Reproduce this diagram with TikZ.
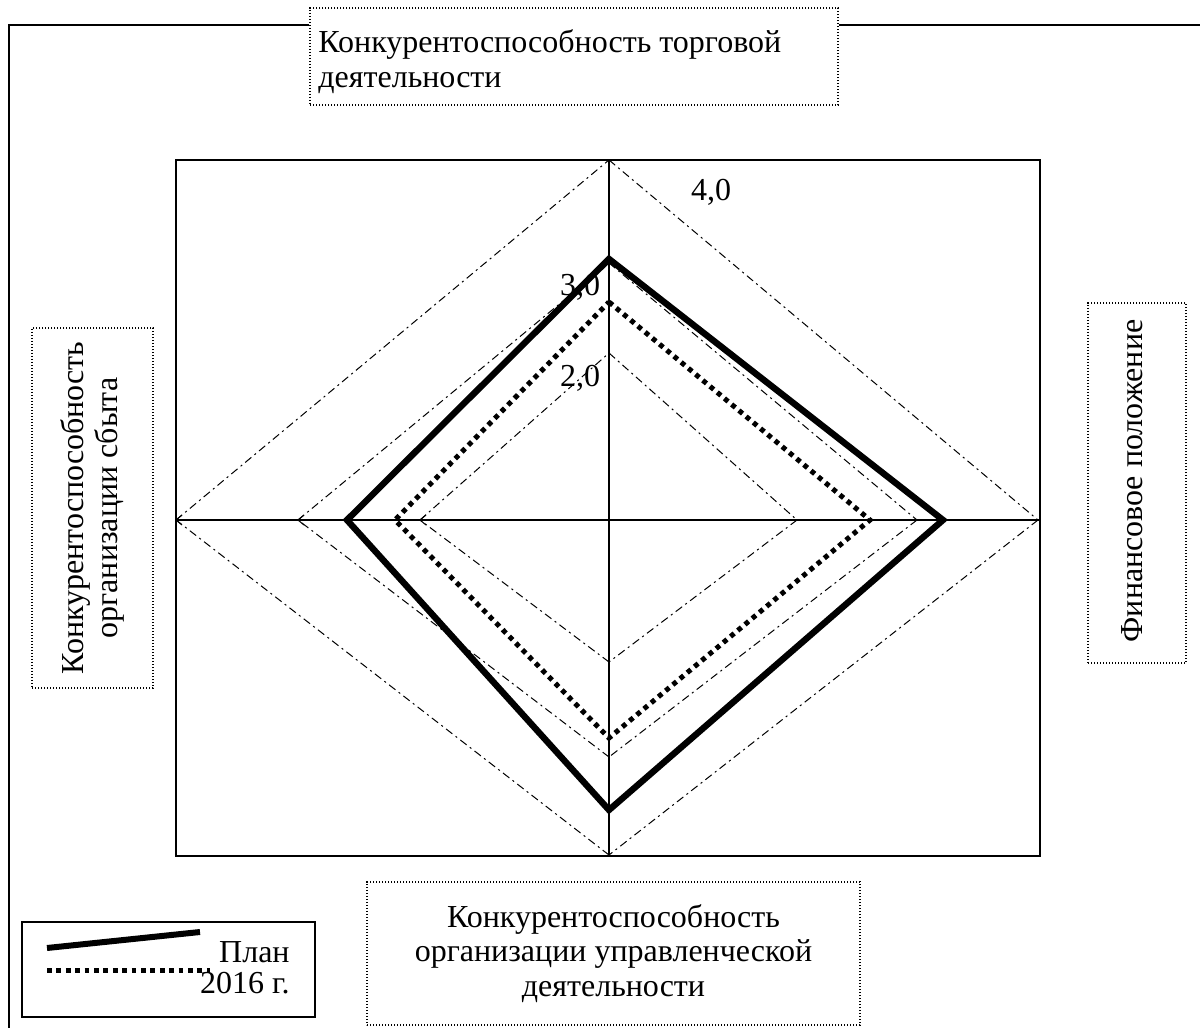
\documentclass[tikz,border=0pt]{standalone}
\usepackage{fontspec}
\setmainfont{Liberation Serif}
\begin{document}
\begin{tikzpicture}[x=0.5pt,y=-0.5pt,
  lbl/.style={font=\fontsize{16}{17.4}\selectfont},
  labelbox/.style={draw, line width=0.6pt, dash pattern=on 0.6pt off 0.9pt, inner sep=0pt},
  frame/.style={line width=0.8pt},
  axis/.style={line width=0.6pt},
  grid/.style={line width=0.5pt, dash pattern=on 4pt off 2pt on 1pt off 2pt},
  plan/.style={line width=3.2pt, line join=miter},
  fact/.style={line width=2.5pt, dash pattern=on 2.4pt off 2.3pt},
  tick/.style={line width=0.5pt}]
\useasboundingbox (0,0) rectangle (1200,1028);

% category labels (box sizes in pt: one pixel unit is 0.5pt)
\node[labelbox, minimum width=264pt, minimum height=48.5pt] (top) at (574,56.5) {};
\node[anchor=west, align=left, inner sep=0pt, lbl] (toptext) at (318,62)
  {Конкурентоспособность торговой\\деятельности};
\node[labelbox, minimum width=246.5pt, minimum height=71.5pt, align=center, lbl] (bottom) at (613.5,953.5)
  {Конкурентоспособность\\организации управленческой\\деятельности};
\node[labelbox, minimum width=60.5pt, minimum height=180pt] (leftbox) at (92.5,508) {};
\node[rotate=90, align=center, lbl] (lefttext) at (leftbox.center) {Конкурентоспособность\\организации сбыта};
\node[labelbox, minimum width=49pt, minimum height=180pt] (rightbox) at (1137,483) {};
\node[rotate=90, lbl] (righttext) at (1132,481) {Финансовое положение};

% outer frame
\coordinate (fTL) at (9,25);
\coordinate (fBL) at (9,1030);
\coordinate (fTR) at (1202,25);
\draw[frame] (top.west |- fTL) -- (fTL) -- (fBL);
\draw[frame] (top.east |- fTR) -- (fTR);

% plot area and axes
\coordinate (O) at (609,520);
\draw[frame] (176,160) rectangle (1040,856);
\coordinate (axT) at (609,160);
\coordinate (axB) at (609,856);
\coordinate (axL) at (176,520);
\coordinate (axR) at (1040,520);
\draw[axis] (axT) -- (axB);
\draw[axis] (axL) -- (axR);

% grid diamonds
\coordinate (T4) at (609,160); \coordinate (R4) at (1038,520);
\coordinate (B4) at (609,855); \coordinate (L4) at (176,520);
\coordinate (T3) at (609,263); \coordinate (R3) at (917,520);
\coordinate (B3) at (609,757); \coordinate (L3) at (298,520);
\coordinate (T2) at (609,353); \coordinate (R2) at (797,520);
\coordinate (B2) at (609,662); \coordinate (L2) at (420,520);
\foreach \k in {2,3,4}{
  \draw[grid] (L\k) -- (T\k);
  \draw[grid] (T\k) -- (R\k);
  \draw[grid] (R\k) -- (B\k);
  \draw[grid] (B\k) -- (L\k);
  \draw[tick] ([shift={(6,-5)}]L\k) -- (L\k) -- ([shift={(6,5)}]L\k);
}

% scale values
\node[lbl] (v4) at (711,192) {4,0};
\node[lbl] (v3) at (580,287) {3,0};
\node[lbl] (v2) at (580,378) {2,0};

% series: plan
\coordinate (pT) at (609,259); \coordinate (pR) at (943,520);
\coordinate (pB) at (609,810); \coordinate (pL) at (347,520);
\draw[plan] (pT) -- (pR) -- (pB) -- (pL) -- cycle;

% series: 2016
\coordinate (fT) at (609,302); \coordinate (fR) at (870,520);
\coordinate (fB) at (609,738); \coordinate (fL) at (395,520);
\draw[fact] (fT) -- (fR) -- (fB) -- (fL) -- cycle;

% legend
\node[draw, line width=0.9pt, minimum width=146.5pt, minimum height=47.5pt, inner sep=0pt] (legend) at (168.5,969.5) {};
\coordinate (lg1a) at (47,948); \coordinate (lg1b) at (200,932);
\coordinate (lg2a) at (47,970); \coordinate (lg2b) at (210,970);
\draw[line width=3pt] (lg1a) -- (lg1b);
\draw[fact] (lg2a) -- (lg2b);
\node[lbl, anchor=base east, inner sep=0pt] (lgplan) at (290,962) {План};
\node[lbl, anchor=base east, inner sep=0pt] (lgfact) at (290,993) {2016 г.};
\end{tikzpicture}
\end{document}
